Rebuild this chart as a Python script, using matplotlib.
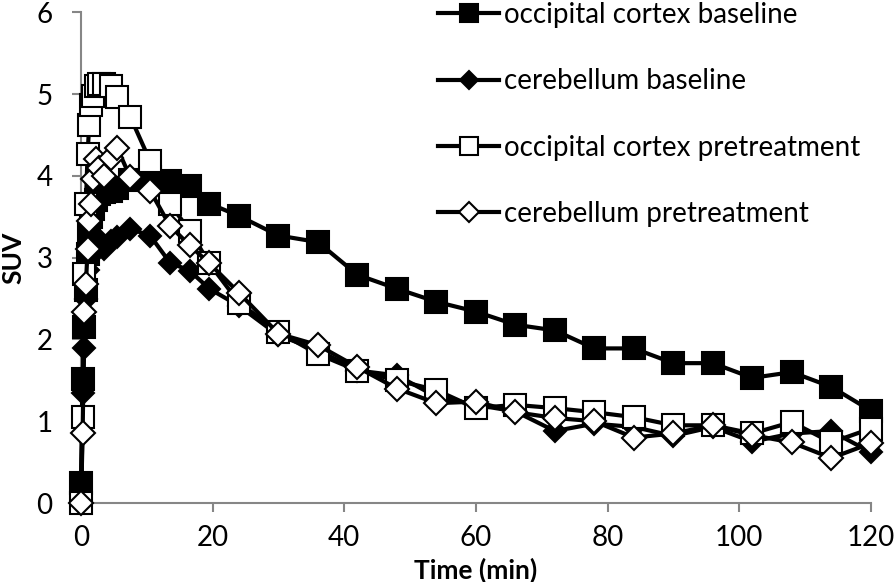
import matplotlib
matplotlib.use("Agg")
import matplotlib.pyplot as plt

plt.rcParams['font.family'] = ['Lato', 'DejaVu Sans']

# frame mid-times (min)
time_min = [0, 0.25, 0.5, 0.75, 1.0, 1.25, 1.5, 1.75, 2.25, 2.75, 3.5, 4.5, 5.5, 7.5,
            10.5, 13.5, 16.5, 19.5, 24, 30, 36, 42, 48, 54, 60, 66, 72, 78, 84, 90,
            96, 102, 108, 114, 120]

occ_baseline = [0.24, 1.52, 2.15, 2.6, 3.05, 3.3, 3.5, 3.6, 3.7, 3.78, 3.8, 3.82, 3.85, 3.95,
                3.98, 3.94, 3.88, 3.66, 3.51, 3.27, 3.19, 2.79, 2.62, 2.46, 2.34, 2.18,
                2.11, 1.89, 1.89, 1.71, 1.71, 1.53, 1.6, 1.42, 1.13]

cer_baseline = [0, 1.35, 1.9, 2.5, 2.85, 3.0, 3.1, 3.2, 3.25, 3.15, 3.1, 3.2, 3.25, 3.35,
                3.27, 2.94, 2.84, 2.62, 2.41, 2.05, 1.87, 1.62, 1.56, 1.3, 1.2, 1.12,
                0.88, 0.97, 0.93, 0.82, 0.93, 0.75, 0.85, 0.88, 0.62]

occ_pretreat = [0, 1.05, 2.8, 3.66, 4.27, 4.62, 4.87, 4.98, 5.1, 5.12, 5.12, 5.1, 4.96, 4.72,
                4.18, 3.66, 3.33, 2.93, 2.45, 2.09, 1.82, 1.62, 1.5, 1.38, 1.16, 1.2,
                1.16, 1.11, 1.05, 0.95, 0.95, 0.85, 0.99, 0.74, 0.91]

cer_pretreat = [0, 0.85, 2.33, 2.68, 3.1, 3.45, 3.66, 3.96, 4.2, 4.1, 4.0, 4.22, 4.34, 3.98,
                3.82, 3.39, 3.15, 2.93, 2.57, 2.07, 1.93, 1.66, 1.4, 1.22, 1.24, 1.11,
                1.04, 1.0, 0.8, 0.85, 0.95, 0.83, 0.74, 0.55, 0.73]

labels = ["occipital cortex baseline", "cerebellum baseline",
          "occipital cortex pretreatment", "cerebellum pretreatment"]

fig = plt.figure(figsize=(8.94, 5.82), dpi=100)
ax = fig.add_axes([0.0906, 0.1357, 0.8834, 0.8433])

series = [occ_baseline, cer_baseline, occ_pretreat, cer_pretreat]
styles = [("s", "black", 16), ("D", "black", 11), ("s", "white", 16), ("D", "white", 12)]
for vals, (mk, fc, ms), lab in zip(series, styles, labels):
    ax.plot(time_min, vals, color="black", lw=3, marker=mk, markersize=ms,
            markerfacecolor=fc, markeredgecolor="black", markeredgewidth=1.5,
            label=lab, clip_on=False)

ax.set_xlim(0, 120)
ax.set_ylim(0, 6)
ax.set_xticks(range(0, 121, 20))
ax.set_yticks(range(0, 7))

gray = "#868686"
for s in ["top", "right"]:
    ax.spines[s].set_visible(False)
for s in ["left", "bottom"]:
    ax.spines[s].set_color(gray)
    ax.spines[s].set_linewidth(1.5)
    ax.spines[s].set_zorder(0)
ax.tick_params(axis="both", direction="out", length=6.5, width=1.5, color=gray,
               labelsize=20)
ax.tick_params(axis="x", pad=9)
ax.tick_params(axis="y", pad=14)

ax.set_xlabel("Time (min)", fontsize=19, fontweight="bold")
ax.xaxis.set_label_coords(0.5, -0.112)
ax.set_ylabel("SUV", fontsize=19, fontweight="bold")
ax.yaxis.set_label_coords(-0.07, 0.5)

leg = fig.legend(loc="upper left", bbox_to_anchor=(438 / 894, 0.9964), frameon=False,
                 fontsize=20, handlelength=2.2, handletextpad=0.18,
                 labelspacing=1.45, markerscale=0.85, borderpad=0, borderaxespad=0)

fig.savefig("out.png", dpi=100)
